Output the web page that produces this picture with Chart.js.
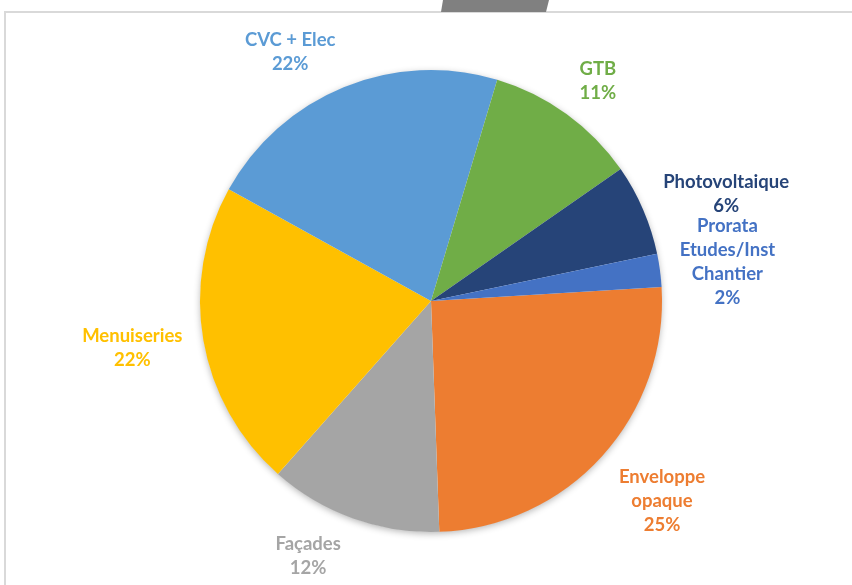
<!DOCTYPE html>
<html>
<head>
<meta charset="utf-8">
<script src="https://cdn.jsdelivr.net/npm/chart.js@4/dist/chart.umd.min.js"></script>
<style>
  html, body { margin: 0; padding: 0; background: #fff; }
  #wrap { position: relative; width: 852px; height: 585px; overflow: hidden; }
  #frame { position: absolute; left: 4px; top: 11px; width: 860px; height: 600px;
           border-left: 2px solid #d9d9d9; border-top: 2px solid #d9d9d9; }
  #tab { position: absolute; left: 441px; top: 0; width: 108px; height: 12px; background: #808080;
         clip-path: polygon(2px 0, 108px 0, 105px 12px, 0 12px); }
  #pie { position: absolute; left: 0; top: 0; }
</style>
</head>
<body>
<div id="wrap">
  <div id="frame"></div>
  <div id="tab"></div>
  <canvas id="pie" width="852" height="585"></canvas>
</div>
<script>
// data (share of total, %)
var categories = [
    ['Enveloppe', 'opaque'],
    ['Façades'],
    ['Menuiseries'],
    ['CVC + Elec'],
    ['GTB'],
    ['Photovoltaique'],
    ['Prorata', 'Etudes/Inst', 'Chantier']
];
var shares = [25.4, 12.1, 21.5, 21.6, 10.7, 6.4, 2.3];
var sliceColors = ['#ED7D31', '#A5A5A5', '#FFC000', '#5B9BD5', '#70AD47', '#264478', '#4472C4'];

// label nudges (px) off the default spot outside each slice
var labelNudge = [[14, 3], [-24, -21], [-10, -3], [-30, 22], [-5, 17], [26, 9], [6, 0]];

var shadowPlugin = {
    id: 'pieShadow',
    beforeDatasetsDraw: function (chart) {
        var arc = chart.getDatasetMeta(0).data[0];
        if (!arc) return;
        var ctx = chart.ctx;
        ctx.save();
        ctx.shadowColor = 'rgba(0,0,0,0.30)';
        ctx.shadowBlur = 7;
        ctx.shadowOffsetY = 2;
        ctx.fillStyle = '#ffffff';
        ctx.beginPath();
        ctx.arc(arc.x, arc.y, arc.outerRadius - 0.5, 0, Math.PI * 2);
        ctx.fill();
        ctx.restore();
    }
};

var labelPlugin = {
    id: 'sliceLabels',
    afterDatasetsDraw: function (chart) {
        var ctx = chart.ctx;
        var meta = chart.getDatasetMeta(0);
        var total = shares.reduce(function (a, b) { return a + b; }, 0);
        var lineH = 24;
        ctx.save();
        ctx.font = 'bold 18.5px Lato';
        ctx.textAlign = 'center';
        ctx.textBaseline = 'middle';
        meta.data.forEach(function (arc, i) {
            var mid = (arc.startAngle + arc.endAngle) / 2;
            var d = arc.outerRadius + 62;
            var x = arc.x + Math.cos(mid) * d + labelNudge[i][0];
            var y = arc.y + Math.sin(mid) * d + labelNudge[i][1];
            var lines = categories[i].concat([Math.round(shares[i] / total * 100) + '%']);
            var top = y - (lines.length - 1) * lineH / 2;
            ctx.fillStyle = sliceColors[i];
            lines.forEach(function (t, k) {
                ctx.fillText(t, x, top + k * lineH);
            });
        });
        ctx.restore();
    }
};

new Chart(document.getElementById('pie').getContext('2d'), {
    type: 'pie',
    data: {
        labels: categories.map(function (c) { return c.join(' '); }),
        datasets: [{
            data: shares,
            backgroundColor: sliceColors,
            borderWidth: 0,
            hoverOffset: 0,
            offset: 0
        }]
    },
    options: {
        responsive: false,
        animation: false,
        events: [],
        rotation: 86.5,
        layout: { padding: { top: 70, bottom: 53, left: 200, right: 190 } },
        plugins: {
            legend: { display: false },
            tooltip: { enabled: false }
        }
    },
    plugins: [shadowPlugin, labelPlugin]
});
</script>
</body>
</html>
